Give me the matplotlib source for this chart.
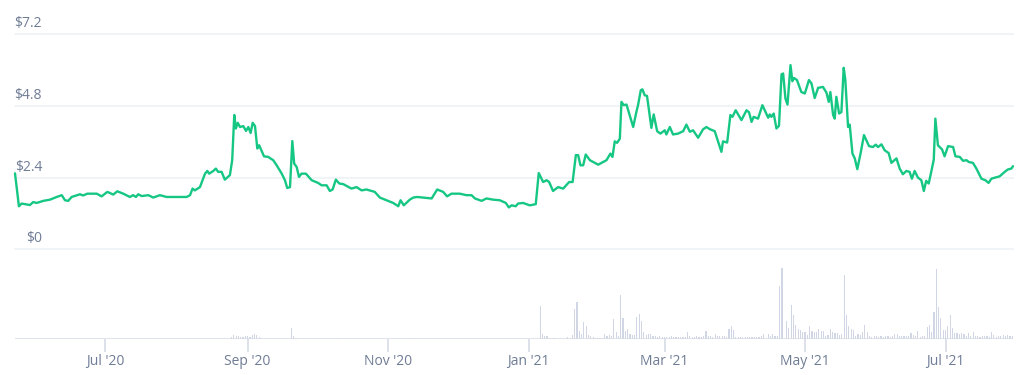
import numpy as np
import matplotlib
matplotlib.use("Agg")
import matplotlib.pyplot as plt
import matplotlib.dates as mdates

# ---------------- data ----------------
start_date = np.datetime64("2020-05-23")
end_offset = 433.3

# price series: day offsets from start_date and price in USD
price_days = [0.0, 1.7, 2.9, 6.5, 7.9, 9.4, 12.3, 15.2, 18.1, 20.3, 21.7, 23.1, 24.6, 28.2, 29.6,
              31.4, 35.5, 37.6, 40.1, 42.7, 44.4, 47.0, 49.9, 51.3, 52.5, 53.5, 55.0, 57.9, 60.0,
              62.9, 65.8, 74.5, 76.0, 77.1, 78.1, 80.3, 82.5, 83.5, 84.3, 86.1, 87.2, 88.2, 89.7,
              91.1, 93.3, 94.3, 95.2, 95.9, 96.7, 97.7, 99.1, 100.3, 101.3, 102.3, 103.2, 104.2,
              105.2, 106.0, 108.1, 109.9, 112.1, 113.6, 115.8, 117.2, 118.2, 119.4, 120.4, 121.2,
              122.3, 123.3, 124.4, 126.3, 128.8, 131.6, 133.1, 135.3, 136.7, 137.9, 139.3, 140.8,
              142.5, 146.1, 148.3, 150.5, 152.6, 156.2, 158.4, 161.3, 164.2, 166.4, 167.4, 168.8,
              171.4, 172.9, 174.6, 177.2, 180.9, 183.3, 185.9, 187.6, 189.5, 193.1, 196.0, 198.2,
              199.7, 202.6, 204.7, 207.6, 210.5, 213.1, 214.4, 215.6, 217.4, 218.4, 220.6, 223.5,
              226.1, 227.4, 229.3, 230.8, 231.9, 233.6, 235.8, 238.0, 240.6, 242.1, 243.5, 244.5,
              245.5, 246.7, 247.8, 249.6, 253.2, 256.8, 258.5, 259.4, 260.4, 261.4, 262.6, 263.3,
              264.3, 265.5, 268.4, 269.8, 270.5, 271.7, 272.4, 273.4, 274.4, 276.3, 277.3, 278.8,
              280.2, 282.1, 282.8, 284.3, 285.7, 287.9, 290.1, 291.5, 293.0, 294.4, 296.6, 298.7,
              300.2, 301.6, 303.8, 305.3, 306.7, 307.4, 309.2, 310.6, 311.5, 312.9, 315.4, 317.6,
              318.7, 319.8, 320.7, 322.6, 324.5, 325.5, 327.0, 327.7, 328.4, 329.4, 330.6, 331.7,
              332.8, 333.5, 334.5, 335.4, 336.7, 337.5, 338.2, 339.5, 341.4, 342.9, 343.6, 344.7,
              345.8, 347.2, 348.7, 350.8, 352.3, 353.3, 354.0, 355.2, 355.9, 356.6, 357.8, 358.8,
              359.8, 360.5, 361.7, 362.4, 363.6, 364.6, 365.7, 367.1, 368.6, 370.8, 372.5, 373.7,
              374.7, 376.2, 377.6, 379.3, 380.5, 382.7, 384.1, 385.5, 387.0, 388.4, 389.4, 390.6,
              392.0, 393.5, 394.6, 395.6, 396.7, 397.8, 398.9, 399.6, 400.7, 402.5, 403.6, 405.1,
              407.3, 408.3, 410.2, 411.6, 413.1, 414.1, 415.9, 417.4, 419.6, 421.3, 422.7, 423.9,
              425.6, 427.5, 429.7, 431.1, 432.6, 433.3]
price_vals = [2.54, 1.44, 1.53, 1.48, 1.58, 1.55, 1.62, 1.66, 1.75, 1.81, 1.64, 1.62, 1.75, 1.84, 1.80,
              1.86, 1.86, 1.77, 1.92, 1.83, 1.94, 1.86, 1.75, 1.81, 1.75, 1.84, 1.78, 1.81, 1.73,
              1.81, 1.75, 1.75, 1.81, 2.03, 1.97, 2.08, 2.53, 2.62, 2.53, 2.62, 2.70, 2.59, 2.59,
              2.33, 2.48, 2.98, 4.49, 4.04, 4.23, 4.09, 4.12, 3.96, 4.09, 3.89, 4.23, 4.12,
              3.37, 3.48, 3.11, 3.09, 2.98, 2.81, 2.53, 2.31, 2.05, 2.08, 3.62, 2.87,
              2.75, 2.42, 2.53, 2.53, 2.31, 2.22, 2.14, 2.14, 1.95, 2.00, 2.33, 2.20,
              2.18, 2.03, 2.08, 1.97, 2.00, 1.92, 1.73, 1.64, 1.55, 1.44, 1.64, 1.47,
              1.66, 1.73, 1.75, 1.73, 1.70, 2.00, 1.92, 1.77, 1.86, 1.86, 1.81, 1.81,
              1.70, 1.62, 1.70, 1.66, 1.64, 1.55, 1.40, 1.47, 1.44, 1.53, 1.55, 1.47,
              1.51, 2.55, 2.25, 2.31, 2.25, 1.95, 2.08, 2.03, 2.25, 2.25, 3.15, 3.15,
              2.81, 2.81, 3.17, 2.98, 2.83, 2.98, 3.20, 3.09, 3.61, 3.56, 3.70, 4.93,
              4.82, 4.84, 4.09, 4.60, 4.82, 5.32, 5.35, 5.15, 5.13, 4.06, 4.51, 3.95,
              3.87, 3.98, 3.84, 4.09, 3.84, 3.87, 3.95, 4.17, 3.93, 3.98, 3.73, 4.01,
              4.09, 4.02, 3.95, 3.59, 3.26, 3.61, 3.57, 4.49, 4.43, 4.65, 4.32, 4.65,
              4.58, 4.26, 4.43, 4.37, 4.82, 4.65, 4.40, 4.51, 4.43, 4.54, 4.04, 4.13,
              5.85, 5.88, 5.04, 4.84, 6.16, 5.62, 5.73, 5.66, 5.26, 5.21, 5.38, 5.66,
              5.55, 5.06, 5.40, 5.43, 5.24, 4.93, 5.26, 4.49, 4.37, 5.10, 4.54, 4.59,
              6.07, 5.66, 4.09, 4.17, 3.20, 3.04, 2.68, 3.20, 3.82, 3.45, 3.42, 3.50,
              3.42, 3.51, 3.31, 3.22, 2.89, 3.04, 2.70, 2.51, 2.62, 2.59, 2.36, 2.62,
              2.40, 2.31, 1.95, 2.29, 2.20, 2.59, 3.00, 4.37, 3.48, 3.34, 3.11, 3.45,
              3.42, 3.11, 3.09, 2.96, 2.98, 2.92, 2.89, 2.70, 2.36, 2.31, 2.22, 2.36,
              2.40, 2.44, 2.59, 2.67, 2.70, 2.78]

# trading volume (relative units): day offsets and values
vol_days = [94, 95, 96, 97, 98, 99, 100, 101, 102, 103, 104, 105, 106, 107, 120, 121, 122, 140, 173,
            228, 229, 230, 231, 232, 234, 240, 241, 242, 243, 244, 245, 246, 247, 248, 249, 250, 251,
            252, 253, 254, 255, 256, 257, 258, 259, 260, 261, 262, 263, 264, 265, 266, 267, 268, 269,
            270, 271, 272, 273, 274, 275, 276, 277, 278, 279, 280, 281, 282, 283, 284, 285, 286, 287,
            288, 289, 290, 291, 292, 293, 294, 295, 296, 297, 298, 299, 300, 301, 302, 303, 304, 305,
            306, 307, 308, 309, 310, 311, 312, 313, 314, 315, 316, 317, 318, 319, 320, 321, 322, 323,
            324, 325, 327, 328, 329, 330, 331, 332, 333, 335, 336, 337, 338, 339, 340, 341, 342, 343,
            344, 345, 346, 347, 348, 349, 350, 351, 352, 353, 354, 355, 356, 357, 358, 359, 360, 361,
            362, 363, 364, 365, 366, 367, 368, 369, 370, 371, 372, 373, 374, 375, 376, 377, 378, 379,
            380, 381, 382, 383, 384, 385, 386, 387, 388, 389, 390, 391, 392, 393, 394, 395, 396, 397,
            398, 399, 400, 401, 402, 403, 404, 405, 406, 407, 408, 409, 410, 411, 412, 413, 414, 415,
            416, 417, 418, 419, 420, 421, 422, 423, 424, 425, 426, 427, 428, 429, 430, 431, 432, 433]
vol_vals = [1.7, 4.3, 3.3, 2.7, 2.0, 2.0, 2.7, 3.3, 2.0, 4.3, 5.3, 4.3, 2.0, 1.3, 11.0, 3.0, 1.3, 1.3, 1.3,
            32.7, 5.0, 3.0, 3.0, 1.3, 1.0, 2.0, 1.3, 4.0, 30.0, 36.7, 8.3, 5.3, 16.7, 13.3, 4.3, 3.3, 2.3,
            1.3, 1.3, 1.3, 1.3, 5.3, 2.7, 4.3, 2.7, 20.0, 6.7, 3.3, 44.3, 21.0, 7.7, 10.0, 5.3, 4.3, 4.3,
            22.0, 25.3, 17.7, 6.7, 4.3, 5.3, 5.3, 3.3, 3.0, 2.3, 2.7, 2.0, 1.7, 2.3, 2.0, 2.7, 1.7, 2.3,
            2.0, 1.7, 2.0, 2.3, 6.7, 2.7, 2.0, 2.3, 2.7, 2.0, 2.3, 3.0, 7.7, 3.0, 2.7, 2.3, 5.3, 3.0,
            3.3, 2.7, 3.0, 2.3, 10.0, 13.3, 9.3, 2.3, 2.0, 1.7, 2.0, 2.3, 1.7, 2.0, 2.0, 1.7, 2.3, 2.0,
            2.7, 5.3, 5.3, 3.3, 5.3, 3.3, 3.3, 53.3, 71.0, 17.7, 11.0, 34.3, 24.3, 14.3, 10.0, 9.3, 6.7, 6.7,
            4.3, 13.3, 7.7, 6.7, 6.7, 10.0, 7.7, 7.7, 3.3, 4.3, 10.0, 6.7, 6.0, 6.0, 4.3, 5.3, 64.3, 24.3,
            13.3, 10.0, 9.3, 2.7, 5.3, 4.3, 6.7, 14.3, 6.7, 3.0, 2.3, 3.3, 2.7, 2.0, 3.0, 2.3, 2.7, 3.3,
            2.3, 2.7, 5.3, 5.3, 3.0, 2.7, 3.3, 2.7, 3.0, 6.0, 4.3, 3.0, 7.7, 2.0, 3.3, 2.7, 12.0, 14.3,
            6.7, 26.7, 70.0, 32.0, 21.0, 9.3, 8.7, 12.7, 24.3, 11.0, 6.0, 6.0, 5.3, 6.0, 5.3, 3.0, 6.0, 3.0,
            6.7, 2.7, 3.3, 2.3, 3.0, 2.7, 3.3, 2.3, 6.7, 4.3, 2.3, 3.0, 3.3, 4.0, 3.0, 3.7, 3.3, 2.7]

y_ticks = [0, 2.4, 4.8, 7.2]
y_tick_labels = ["$0", "$2.4", "$4.8", "$7.2"]
x_tick_dates = ["2020-07-01", "2020-09-01", "2020-11-01", "2021-01-01",
                "2021-03-01", "2021-05-01", "2021-07-01"]
x_tick_labels = ["Jul '20", "Sep '20", "Nov '20", "Jan '21", "Mar '21", "May '21", "Jul '21"]

# ---------------- styling ----------------
W, H = 1018, 375
line_color = "#16c784"
grid_color = "#eff2f5"
axis_color = "#d5dbe6"
vol_color = "#d0d6e3"
label_color = "#6f7c95"
font = ["Open Sans", "DejaVu Sans"]

base = mdates.date2num(start_date)
px = np.array(price_days) + base
vx = np.array(vol_days) + base
x0, x1 = base, base + end_offset

fig = plt.figure(figsize=(W / 100, H / 100), dpi=100)
fig.patch.set_facecolor("white")

left, right = 15 / W, 1013 / W
# price axes: $0 at y=249.3 px, $7.2 at y=34 px
ax = fig.add_axes([left, 1 - 249.3 / H, right - left, (249.3 - 34) / H])
# volume axes: baseline at y=339 px up to 249.3 px
axv = fig.add_axes([left, 1 - 339 / H, right - left, (339 - 249.3) / H])

for a in (ax, axv):
    a.set_xlim(x0, x1)
    for s in a.spines.values():
        s.set_visible(False)
    a.set_facecolor("none")

# price
ax.set_ylim(0, 7.2)
for v, lab in zip(y_ticks, y_tick_labels):
    ax.axhline(v, color=grid_color, lw=1.2, zorder=0, clip_on=False)
    ax.annotate(lab, xy=(27 / 998, v), xycoords=("axes fraction", "data"),
                xytext=(0, 3), textcoords="offset pixels", ha="right", va="bottom",
                color=label_color, fontsize=10, family=font)
ax.plot(px, price_vals, color=line_color, lw=1.7, solid_joinstyle="round",
        solid_capstyle="round", zorder=3, clip_on=False)
ax.set_xticks([])
ax.set_yticks([])

# volume
axv.set_ylim(0, 89.7)
axv.bar(vx, vol_vals, width=0.5, color=vol_color, align="center", zorder=2)
axv.axhline(0, color=axis_color, lw=1.8, zorder=3)
axv.set_yticks([])
tick_pos = [mdates.date2num(np.datetime64(d)) for d in x_tick_dates]
axv.set_xticks(tick_pos)
axv.set_xticklabels(x_tick_labels, family=font, fontsize=10, color=label_color)
axv.tick_params(axis="x", length=9, width=1.2, color=axis_color, pad=2)

fig.savefig("out.png", dpi=100, facecolor="white")
